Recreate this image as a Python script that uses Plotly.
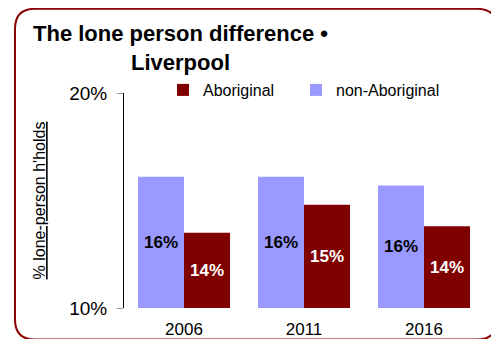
import plotly.graph_objects as go

years = ["2006", "2011", "2016"]
non_aboriginal = [16.1, 16.1, 15.7]
aboriginal = [13.5, 14.8, 13.8]
y_base = 10
y_top = 20
y_tick_vals = [10, 20]
y_tick_text = ["10%", "20%"]

# page body has an 8px margin, so the figure is drawn 8px in from the top-left
OFF = 8
W, H = 499 - OFF, 339 - OFF
L, T = 124 - OFF, 93 - OFF
PW, PH = 360, 215
R, B = W - L - PW, H - T - PH

def px(x):  # page x -> paper x
    return (x - OFF - L) / PW

def py(y):  # page y -> paper y
    return (T + PH - (y - OFF)) / PH

FONT = "Liberation Sans, Arial, sans-serif"

fig = go.Figure()
fig.add_trace(go.Bar(
    x=years, y=[v - y_base for v in non_aboriginal], base=y_base,
    name="non-Aboriginal", legend="legend2",
    marker=dict(color="#9999FF", line=dict(width=0)),
    text=[f"{round(v)}%" for v in non_aboriginal],
    customdata=non_aboriginal, hovertemplate="%{x}: %{customdata}%<extra>non-Aboriginal</extra>",
    textposition="inside", insidetextanchor="middle", textangle=0,
    textfont=dict(family=FONT, size=17, color="black", weight="bold"),
))
fig.add_trace(go.Bar(
    x=years, y=[v - y_base for v in aboriginal], base=y_base,
    name="Aboriginal", legend="legend",
    marker=dict(color="#800000", line=dict(width=0)),
    text=[f"{round(v)}%" for v in aboriginal],
    customdata=aboriginal, hovertemplate="%{x}: %{customdata}%<extra>Aboriginal</extra>",
    textposition="inside", insidetextanchor="middle", textangle=0,
    textfont=dict(family=FONT, size=17, color="white", weight="bold"),
))

# rounded frame
x0, x1, y0, y1, r = 15, 497, 8.8, 339.5, 20
path = (
    f"M {px(x0 + r)},{py(y0)} L {px(x1 - r)},{py(y0)} "
    f"Q {px(x1)},{py(y0)} {px(x1)},{py(y0 + r)} "
    f"L {px(x1)},{py(y1 - r)} Q {px(x1)},{py(y1)} {px(x1 - r)},{py(y1)} "
    f"L {px(x0 + r)},{py(y1)} Q {px(x0)},{py(y1)} {px(x0)},{py(y1 - r)} "
    f"L {px(x0)},{py(y0 + r)} Q {px(x0)},{py(y0)} {px(x0 + r)},{py(y0)} Z"
)
fig.add_shape(type="path", path=path, xref="paper", yref="paper",
              line=dict(color="#8B0000", width=2), layer="above")

fig.add_annotation(
    text="<b>The lone person difference •<br>Liverpool</b>",
    xref="paper", yref="paper", x=px(180), y=py(48),
    xanchor="center", yanchor="middle", showarrow=False,
    font=dict(family=FONT, size=22, color="black"),
)

leg_common = dict(orientation="h", xanchor="left", yanchor="middle",
                  font=dict(family=FONT, size=16, color="black"),
                  bgcolor="rgba(0,0,0,0)", borderwidth=0)

fig.update_layout(
    width=W, height=H,
    margin=dict(l=L, r=R, t=T, b=B, pad=0, autoexpand=False),
    paper_bgcolor="white", plot_bgcolor="white",
    barmode="group", bargap=0.233, bargroupgap=0,
    showlegend=True,
    legend=dict(x=px(163), y=py(90), **leg_common),
    legend2=dict(x=px(296), y=py(90), **leg_common),
    font=dict(family=FONT, color="black"),
)
fig.update_yaxes(
    automargin=False,
    range=[y_base, y_top], tickvals=y_tick_vals, ticktext=y_tick_text,
    showgrid=False, zeroline=False, showline=True, linecolor="black", linewidth=1,
    ticks="outside", ticklen=6, tickcolor="#999999", ticklabelstandoff=6,
    tickfont=dict(family=FONT, size=19, color="black"),
    title=dict(text="<u>% lone-person h'holds</u>", standoff=19,
               font=dict(family=FONT, size=16, color="black")),
)
fig.update_xaxes(
    automargin=False,
    showgrid=False, zeroline=False, showline=False, ticks="",
    ticklabelstandoff=9,
    tickfont=dict(family=FONT, size=17, color="black"),
)

fig.write_html("out.html")
